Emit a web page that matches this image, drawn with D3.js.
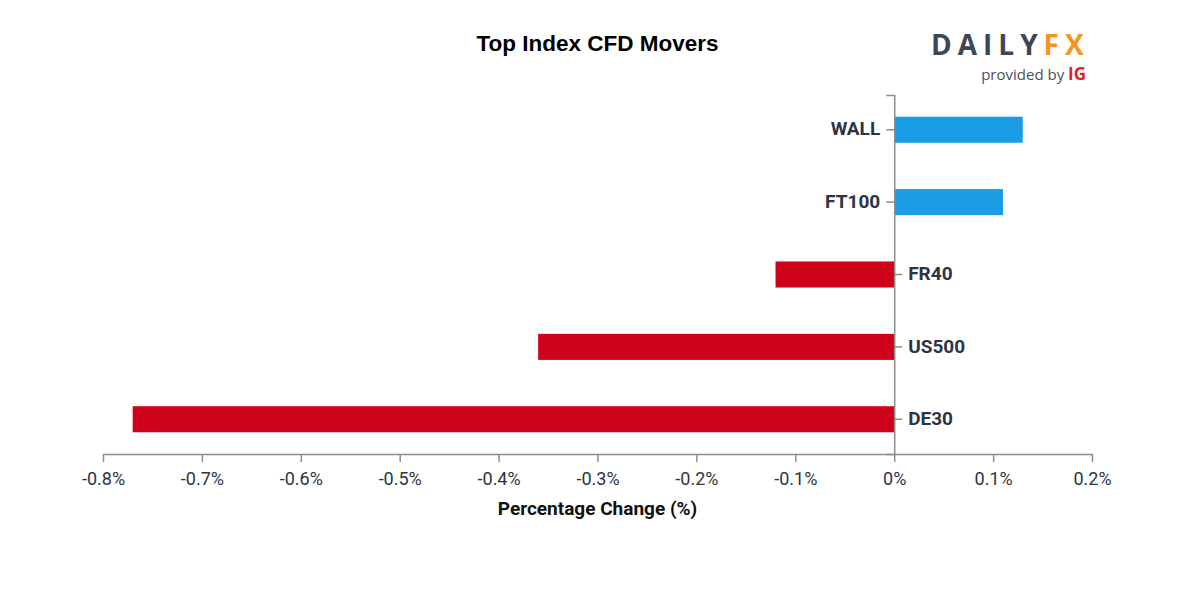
<!DOCTYPE html>
<html>
<head>
<meta charset="utf-8">
<script src="https://cdn.jsdelivr.net/npm/d3@7"></script>
<style>
  body { margin: 0; background: #fff; }
  svg { display: block; }
</style>
</head>
<body>
<div id="chart"></div>
<script>
// data läst från bilden
var categories = ['WALL', 'FT100', 'FR40', 'US500', 'DE30'];
var changes = [0.13, 0.11, -0.12, -0.36, -0.77];
var xTicks = [-0.8, -0.7, -0.6, -0.5, -0.4, -0.3, -0.2, -0.1, 0, 0.1, 0.2];

var width = 1200;
var height = 600;
var margin = { top: 95, right: 108, bottom: 146, left: 103 };
var innerW = width - margin.left - margin.right;
var innerH = height - margin.top - margin.bottom;

var svg = d3.select('#chart')
    .append('svg')
    .attr('width', width)
    .attr('height', height);

var g = svg.append('g')
    .attr('transform', 'translate(' + margin.left + ',' + margin.top + ')');

var x = d3.scaleLinear()
    .domain([-0.8, 0.2])
    .range([0, innerW]);

var y = d3.scaleBand()
    .domain(categories)
    .range([0, innerH])
    .paddingInner(0.64)
    .paddingOuter(0.3);

// staplar
g.selectAll('rect.bar')
    .data(categories)
    .enter()
    .append('rect')
    .attr('class', 'bar')
    .attr('x', function (d, i) { return x(Math.min(0, changes[i])); })
    .attr('y', function (d) { return y(d); })
    .attr('width', function (d, i) { return Math.abs(x(changes[i]) - x(0)); })
    .attr('height', y.bandwidth())
    .style('fill', function (d, i) { return changes[i] >= 0 ? '#1b9de6' : '#d0011b'; });

// x-axeln
var xAxis = g.append('g')
    .attr('transform', 'translate(0,' + innerH + ')')
    .call(d3.axisBottom(x)
        .tickValues(xTicks)
        .tickSize(8)
        .tickSizeOuter(0)
        .tickFormat(function (d) { return d3.format('.1~f')(d).replace('\u2212', '-') + '%'; }));
xAxis.selectAll('path, line').attr('stroke', '#8c8c8c').attr('stroke-width', 1.5);
xAxis.selectAll('text')
    .attr('dy', '1.1em')
    .style('font-family', 'Roboto, sans-serif')
    .style('font-size', '18px')
    .style('fill', '#2b3544');

// y-axeln vid noll
var yAxis = g.append('g')
    .attr('transform', 'translate(' + x(0) + ',0)')
    .call(d3.axisLeft(y).tickSize(0).tickSizeOuter(8).tickFormat(''));
yAxis.selectAll('path').attr('stroke', '#8c8c8c').attr('stroke-width', 1.5);

// kategorietiketter: vänster om positiva, höger om negativa
categories.forEach(function (c, i) {
    var pos = changes[i] >= 0;
    var cy = y(c) + y.bandwidth() / 2;
    g.append('line')
        .attr('x1', x(0))
        .attr('x2', x(0) + (pos ? -8 : 8))
        .attr('y1', cy)
        .attr('y2', cy)
        .attr('stroke', '#8c8c8c')
        .attr('stroke-width', 1.5);
    g.append('text')
        .attr('x', x(0) + (pos ? -14 : 14))
        .attr('y', cy)
        .attr('dy', '0.3em')
        .attr('text-anchor', pos ? 'end' : 'start')
        .style('font-family', 'Roboto, sans-serif')
        .style('font-weight', 'bold')
        .style('font-size', '19px')
        .style('fill', '#2b3544')
        .text(c);
});

// titel
svg.append('text')
    .attr('x', margin.left + innerW / 2)
    .attr('y', 51)
    .attr('text-anchor', 'middle')
    .style('font-family', '"Liberation Sans", Arial, sans-serif')
    .style('font-weight', 'bold')
    .style('font-size', '22.5px')
    .style('fill', '#000')
    .text('Top Index CFD Movers');

// x-axelns titel
svg.append('text')
    .attr('x', margin.left + innerW / 2)
    .attr('y', 515)
    .attr('text-anchor', 'middle')
    .style('font-family', 'Roboto, sans-serif')
    .style('font-weight', 'bold')
    .style('font-size', '19px')
    .style('fill', '#111')
    .text('Percentage Change (%)');

// logga
var logo = svg.append('text')
    .attr('x', 931)
    .attr('y', 55)
    .style('font-family', '"Open Sans", sans-serif')
    .style('font-weight', 'bold')
    .style('font-size', '28px')
    .style('letter-spacing', '6px');
logo.append('tspan').style('fill', '#3e4656').text('DAILY');
logo.append('tspan').style('fill', '#f7941d').text('FX');

var sub = svg.append('text')
    .attr('x', 1086)
    .attr('y', 80)
    .attr('text-anchor', 'end')
    .style('font-family', '"Open Sans", sans-serif')
    .style('font-size', '15px');
sub.append('tspan').style('fill', '#4a4f5a').text('provided by ');
sub.append('tspan').style('fill', '#e0202b').style('font-weight', 'bold').style('font-size', '17px').text('IG');
</script>
</body>
</html>
